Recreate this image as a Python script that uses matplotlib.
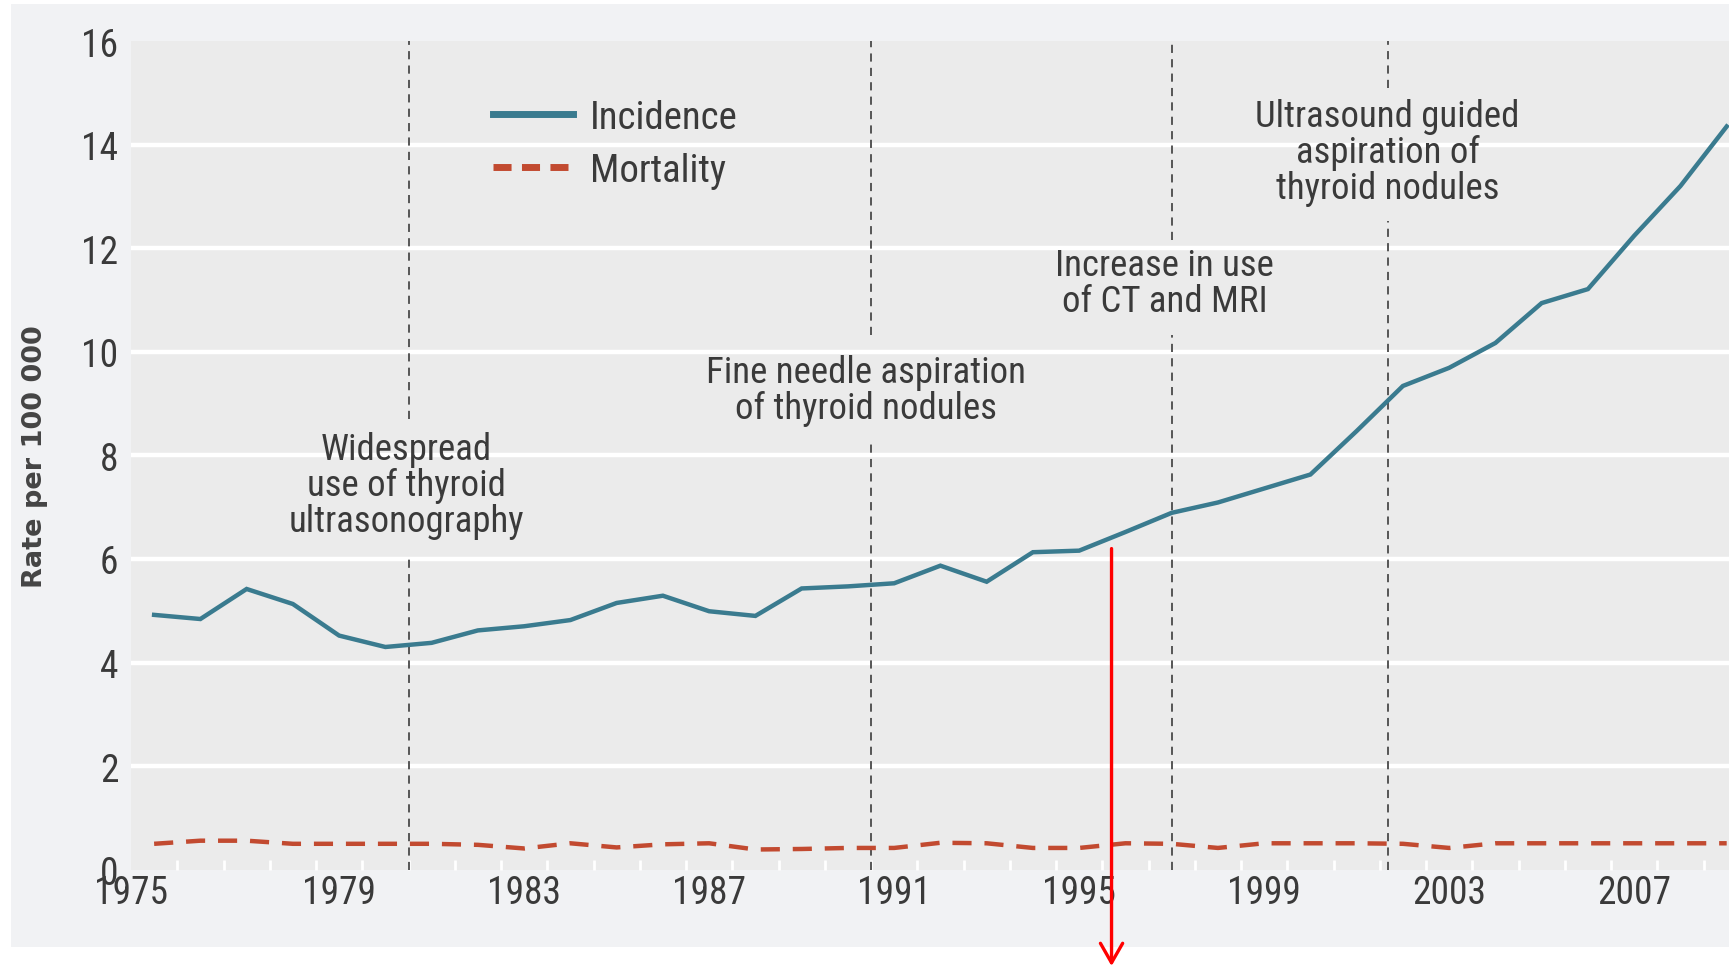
import matplotlib
matplotlib.use("Agg")
import matplotlib.pyplot as plt
from matplotlib import font_manager
from matplotlib.lines import Line2D
from matplotlib.patches import Rectangle
import numpy as np

# ---- data -------------------------------------------------------------
years = list(range(1975, 2010))
incidence = [4.92, 4.84, 5.42, 5.13, 4.52, 4.30, 4.38, 4.62, 4.70, 4.82,
             5.15, 5.29, 4.99, 4.90, 5.43, 5.47, 5.53, 5.87, 5.56, 6.13,
             6.16, 6.52, 6.89, 7.09, 7.36, 7.63, 8.47, 9.34, 9.69, 10.17,
             10.94, 11.21, 12.24, 13.20, 14.35]
mortality = [0.50, 0.56, 0.56, 0.50, 0.50, 0.50, 0.50, 0.48, 0.41, 0.51,
             0.43, 0.49, 0.51, 0.39, 0.40, 0.42, 0.42, 0.52, 0.51, 0.42,
             0.42, 0.51, 0.50, 0.42, 0.51, 0.51, 0.51, 0.50, 0.42, 0.51,
             0.51, 0.51, 0.51, 0.51, 0.51]

event_years = [1980.5, 1990.5, 1997.0, 2001.67]
event_labels = ["Widespread\nuse of thyroid\nultrasonography",
                "Fine needle aspiration\nof thyroid nodules",
                "Increase in use\nof CT and MRI",
                "Ultrasound guided\naspiration of\nthyroid nodules"]

tick_years = [1975, 1979, 1983, 1987, 1991, 1995, 1999, 2003, 2007]
y_ticks = [0, 2, 4, 6, 8, 10, 12, 14, 16]

# ---- layout / style ---------------------------------------------------
label_pos = [(1980.45, 7.43), (1990.4, 9.27), (1996.85, 11.32), (2001.67, 13.85)]
line_gaps = [(6.09, 8.70), (8.23, 10.32), (10.32, 12.16), (12.53, 15.10)]

avail = {f.name for f in font_manager.fontManager.ttflist}
text_font = "DejaVu Sans"
for cand in ["Roboto Condensed", "Liberation Sans Narrow", "Open Sans Condensed",
             "Fira Sans Condensed", "Liberation Sans"]:
    if cand in avail:
        text_font = cand
        break

teal = "#3a7b8f"
brick = "#c24a30"
txt = "#3a3a3a"
panel = "#f1f2f4"
plotbg = "#ebebeb"

fig = plt.figure(figsize=(17.29, 9.70), dpi=100)
fig.patch.set_facecolor("white")
fig.patches.append(Rectangle((11 / 1729, 1 - 948 / 970), 1 - 11 / 1729, (948 - 5) / 970,
                             transform=fig.transFigure, facecolor=panel,
                             edgecolor="none", zorder=-10))

ax = fig.add_axes([131 / 1729, 1 - 870.7 / 970, 1 - 131 / 1729, (870.7 - 42) / 970])
ax.set_facecolor(plotbg)
ax.set_xlim(1974.5, 2009.05)
ax.set_ylim(0, 16)

for s in ax.spines.values():
    s.set_visible(False)

# white horizontal grid
for v in y_ticks[1:-1]:
    ax.axhline(v, color="white", lw=3.2, zorder=1)

# event lines with gaps where the labels sit
for x, (g0, g1) in zip(event_years, line_gaps):
    for y0, y1 in [(0, g0), (g1, 16)]:
        ax.plot([x, x], [y0, y1], color="#555555", lw=1.4,
                dashes=(4.2, 3.2), zorder=2)

ax.plot(years, incidence, color=teal, lw=3.2, zorder=4, solid_joinstyle="miter")
ax.plot(years, mortality, color=brick, lw=3.2, dashes=(4.3, 2.9), zorder=4)

for (x, y), lab in zip(label_pos, event_labels):
    ax.text(x, y, lab, ha="center", va="center", fontsize=26.5, color=txt,
            family=text_font, linespacing=1.0, zorder=5)

# ticks
ax.set_yticks(y_ticks)
ax.set_yticklabels([str(v) for v in y_ticks])
ax.set_xticks([1974.5] + tick_years[1:])
ax.set_xticklabels([str(y) for y in tick_years])
ax.tick_params(axis="both", length=0, labelsize=27, labelcolor=txt)
ax.tick_params(axis="y", pad=9)
ax.tick_params(axis="x", pad=3)
for lab in ax.get_xticklabels() + ax.get_yticklabels():
    lab.set_family(text_font)

ax.set_xticks(np.arange(1974.5, 2009.5, 1.0), minor=True)
ax.tick_params(axis="x", which="minor", direction="in", length=7,
               width=2.0, color="white")

ax.set_ylabel("Rate per 100 000", fontsize=19.5, fontweight="bold",
              color="#444444", family="DejaVu Sans", labelpad=24)

handles = [Line2D([], [], color=teal, lw=5),
           Line2D([], [], color=brick, lw=5, dashes=(2.6, 1.5))]
leg = ax.legend(handles, ["Incidence", "Mortality"], loc="upper left",
                bbox_to_anchor=(0.2265, 0.93), frameon=False, handlelength=2.05,
                handletextpad=0.45, labelspacing=0.4, borderpad=0,
                borderaxespad=0, prop={"family": text_font, "size": 28})
for t in leg.get_texts():
    t.set_color(txt)

# red pointer
ax.annotate("", xy=(1995.7, 0.003), xycoords=("data", "figure fraction"),
            xytext=(1995.7, 6.2), textcoords="data", annotation_clip=False,
            arrowprops=dict(arrowstyle="->,head_length=0.7,head_width=0.4",
                            mutation_scale=20, color="red", lw=2.4,
                            shrinkA=0, shrinkB=0), zorder=10)

fig.savefig("out.png", dpi=100)
